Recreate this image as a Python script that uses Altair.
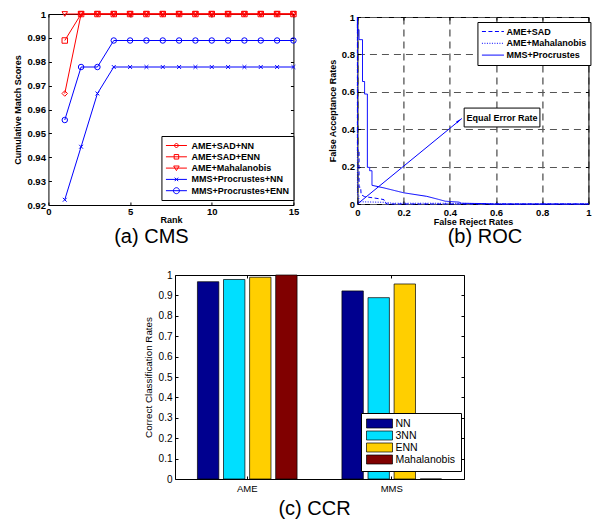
import altair as alt
import pandas as pd

FONT = "Liberation Sans"

# ---------------- (a) CMS ----------------
ranks = [1, 2, 3, 4, 5, 6, 7, 8, 9, 10, 11, 12, 13, 14, 15]
cms_series = ["AME+SAD+NN", "AME+SAD+ENN", "AME+Mahalanobis",
              "MMS+Procrustes+NN", "MMS+Procrustes+ENN"]
cms_ame_sad_nn = [0.9667, 1, 1, 1, 1, 1, 1, 1, 1, 1, 1, 1, 1, 1, 1]
cms_ame_sad_enn = [0.9889, 1, 1, 1, 1, 1, 1, 1, 1, 1, 1, 1, 1, 1, 1]
cms_ame_mahal = [1, 1, 1, 1, 1, 1, 1, 1, 1, 1, 1, 1, 1, 1, 1]
cms_mms_nn = [0.9222, 0.9444, 0.9667, 0.9778, 0.9778, 0.9778, 0.9778, 0.9778,
              0.9778, 0.9778, 0.9778, 0.9778, 0.9778, 0.9778, 0.9778]
cms_mms_enn = [0.9556, 0.9778, 0.9778, 0.9889, 0.9889, 0.9889, 0.9889, 0.9889,
               0.9889, 0.9889, 0.9889, 0.9889, 0.9889, 0.9889, 0.9889]
cms_colors = ["#ff0000", "#ff0000", "#ff0000", "#0000ff", "#0000ff"]
cms_y_ticks = [0.92, 0.93, 0.94, 0.95, 0.96, 0.97, 0.98, 0.99, 1.0]
cms_x_ticks = [0, 5, 10, 15]

# ---------------- (b) ROC ----------------
roc_series = ["AME+SAD", "AME+Mahalanobis", "MMS+Procrustes"]
roc_sad_x = [0, 0, 0.007, 0.007, 0.014, 0.016, 0.03, 0.05, 0.073, 0.1, 0.115, 0.12, 0.13, 1]
roc_sad_y = [1, 0.28, 0.28, 0.09, 0.09, 0.05, 0.04, 0.036, 0.032, 0.027, 0.023, 0.006, 0, 0]
roc_mah_x = [0, 0, 0.006, 0.006, 0.12, 0.15, 0.4, 0.56, 0.6, 1]
roc_mah_y = [1, 0.05, 0.05, 0.012, 0.009, 0.004, 0.004, 0.002, 0, 0]
roc_mms_x = [0, 0, 0.007, 0.007, 0.022, 0.022, 0.031, 0.031, 0.043, 0.043, 0.053, 0.053,
             0.063, 0.063, 0.115, 0.2, 0.3, 0.35, 0.38, 0.44, 0.45, 0.56, 0.57, 1]
roc_mms_y = [1, 0.932, 0.932, 0.879, 0.879, 0.655, 0.655, 0.588, 0.588, 0.196, 0.196, 0.178,
             0.178, 0.1, 0.086, 0.06, 0.041, 0.025, 0.015, 0.01, 0.004, 0.002, 0, 0]
roc_ticks = [0, 0.2, 0.4, 0.6, 0.8, 1.0]
eer_line_x = [0, 0.452]
eer_line_y = [0, 0.457]
eer_head_x = [0.437]
eer_head_y = [0.444]
eer_box_x = [0.462, 0.79]
eer_box_y = [0.412, 0.513]
eer_label = "Equal Error Rate"

# ---------------- (c) CCR ----------------
ccr_groups = ["AME", "MMS"]
ccr_series = ["NN", "3NN", "ENN", "Mahalanobis"]
ccr_ame = [0.967, 0.978, 0.989, 1.0]
ccr_mms = [0.922, 0.889, 0.956, 0.0]
ccr_colors = ["#00008f", "#00dfff", "#ffcf00", "#800000"]
ccr_ticks = [0, 0.1, 0.2, 0.3, 0.4, 0.5, 0.6, 0.7, 0.8, 0.9, 1.0]


def axis(orient, values, title=None, fmt="~g", bold=True, label_size=9.5,
         title_size=9, title_padding=4, label_padding=3, grid=False,
         grid_color="#333"):
    """Labelled axis without ticks."""
    w = "bold" if bold else "normal"
    kw = dict(orient=orient, values=values, ticks=False, tickSize=0, domain=False,
              grid=grid, labels=True, labelFont=FONT, labelFontSize=label_size,
              labelFontWeight=w, labelColor="black", labelPadding=label_padding,
              labelFlush=False, labelOverlap=False, labelAngle=0,
              titleFont=FONT, titleFontSize=title_size, titleFontWeight=w,
              titleColor="black", titlePadding=title_padding, title=title,
              minExtent=0)
    if fmt:
        kw["format"] = fmt
    if grid:
        kw.update(gridDash=[7, 5], gridColor=grid_color, gridWidth=1)
    return alt.Axis(**kw)


def tick_axis(orient, values, band=False):
    """Inward MATLAB-style ticks, no labels."""
    kw = dict(orient=orient, values=values, ticks=True, tickSize=3, offset=-3,
              tickColor="black", tickWidth=1, domain=False, grid=False,
              labels=False, title=None, minExtent=0)
    if band:
        kw["bandPosition"] = 0.5
    return alt.Axis(**kw)


def caption(text, dx, offset):
    return alt.TitleParams(text, orient="bottom", anchor="middle", frame="group",
                           dx=dx, offset=offset, fontSize=20, font=FONT,
                           fontWeight="normal", color="black")


# ---------- panel (a) ----------
rows = []
for s, vals in zip(cms_series, [cms_ame_sad_nn, cms_ame_sad_enn, cms_ame_mahal,
                                cms_mms_nn, cms_mms_enn]):
    for r, v in zip(ranks, vals):
        rows.append({"series": s, "rank": r, "score": v})
cms_df = pd.DataFrame(rows)

xa = alt.Scale(domain=[0, 15], nice=False, zero=False)
ya = alt.Scale(domain=[0.92, 1.0], nice=False, zero=False)
col_a = alt.Scale(domain=cms_series, range=cms_colors)
xpath = "M-0.7,-0.7L0.7,0.7M-0.7,0.7L0.7,-0.7"
shape_a = alt.Scale(domain=cms_series,
                    range=["diamond", "square", "triangle-down", xpath, "circle"])
leg_paths = [
    "M-1,0L3.2,0M1.1,-0.5L1.6,0L1.1,0.5L0.6,0Z",
    "M-1,0L3.2,0M0.65,-0.45L1.55,-0.45L1.55,0.45L0.65,0.45Z",
    "M-1,0L3.2,0M0.55,-0.42L1.65,-0.42L1.1,0.5Z",
    "M-1,0L3.2,0M0.75,-0.35L1.45,0.35M0.75,0.35L1.45,-0.35",
    "M-1,0L3.2,0M1.7,0A0.6,0.6,0,1,1,0.5,0A0.6,0.6,0,1,1,1.7,0",
]
leg_a = dict(title=None, orient="none", legendX=113, legendY=122,
             strokeColor="black", fillColor="white", padding=4,
             symbolSize=100, symbolStrokeWidth=1, labelOffset=15,
             labelFont=FONT, labelFontSize=9, labelFontWeight="bold",
             labelColor="black", rowPadding=0.3, labelLimit=200)

a_lines = alt.Chart(cms_df).mark_line(strokeWidth=1).encode(
    x=alt.X("rank:Q", scale=xa, axis=axis("bottom", cms_x_ticks, title="Rank",
                                          title_padding=0, label_padding=1)),
    y=alt.Y("score:Q", scale=ya, axis=axis("left", cms_y_ticks, title="Cumulative Match Scores")),
    color=alt.Color("series:N", scale=col_a, legend=None),
)
a_points = alt.Chart(cms_df).mark_point(filled=False, strokeWidth=1, opacity=1, size=30).encode(
    x=alt.X("rank:Q", scale=xa, axis=tick_axis("bottom", cms_x_ticks)),
    y=alt.Y("score:Q", scale=ya, axis=tick_axis("left", cms_y_ticks)),
    color=alt.Color("series:N", scale=col_a, legend=None),
    shape=alt.Shape("series:N", scale=shape_a, legend=None),
)
a_legend = alt.Chart(cms_df).transform_filter("false").mark_point(
    filled=False, strokeWidth=1, opacity=1, size=100).encode(
    x=alt.X("rank:Q", scale=xa, axis=None),
    y=alt.Y("score:Q", scale=ya, axis=None),
    color=alt.Color("series:N", scale=col_a, legend=alt.Legend(**leg_a)),
    shape=alt.Shape("series:N", scale=alt.Scale(domain=cms_series, range=leg_paths),
                    legend=alt.Legend(**leg_a)),
)
a_frame = alt.Chart(cms_df).transform_filter("false").mark_point().encode(
    x=alt.X("rank:Q", scale=xa, axis=tick_axis("top", cms_x_ticks)),
    y=alt.Y("score:Q", scale=ya, axis=tick_axis("right", cms_y_ticks)),
)
panel_a = alt.layer(a_lines, a_points, a_legend, a_frame).resolve_scale(
    color="independent", shape="independent").resolve_axis(
    x="independent", y="independent").properties(
    width=245, height=191, title=caption("(a) CMS", -19.5, 2))

# ---------- panel (b) ----------
rows = []
for s, xs, ys in zip(roc_series, [roc_sad_x, roc_mah_x, roc_mms_x],
                     [roc_sad_y, roc_mah_y, roc_mms_y]):
    for i, (x, y) in enumerate(zip(xs, ys)):
        rows.append({"series": s, "frr": x, "far": y, "i": i})
roc_df = pd.DataFrame(rows)

xb = alt.Scale(domain=[0, 1], nice=False)
yb = alt.Scale(domain=[0, 1], nice=False)
dash_b = alt.Scale(domain=roc_series, range=[[4, 2.5], [1, 1.5], [1, 0]])

b_lines = alt.Chart(roc_df).mark_line(strokeWidth=1, color="#0000ff").encode(
    x=alt.X("frr:Q", scale=xb, axis=axis("bottom", roc_ticks, title="False Reject Rates",
                                         title_padding=1, grid=True, grid_color="#222")),
    y=alt.Y("far:Q", scale=yb, axis=axis("left", roc_ticks, title="False Acceptance Rates",
                                         grid=True, grid_color="#555")),
    strokeDash=alt.StrokeDash("series:N", scale=dash_b, legend=alt.Legend(
        title=None, orient="none", legendX=120, legendY=5, strokeColor="black",
        fillColor="white", padding=4, symbolType="M-1,0L3.4,0", symbolSize=100,
        symbolStrokeColor="#0000ff", symbolStrokeWidth=1, labelOffset=14,
        labelFont=FONT, labelFontSize=9, labelFontWeight="bold", labelColor="black",
        rowPadding=0.8, labelLimit=200)),
    order=alt.Order("i:Q"),
)
b_arrow = alt.Chart(pd.DataFrame({"frr": eer_line_x, "far": eer_line_y})).mark_line(
    strokeWidth=1, color="#0000ff").encode(
    x=alt.X("frr:Q", scale=xb, axis=tick_axis("bottom", roc_ticks)),
    y=alt.Y("far:Q", scale=yb, axis=tick_axis("left", roc_ticks)))
b_head = alt.Chart(pd.DataFrame({"frr": eer_head_x, "far": eer_head_y})).mark_point(
    shape="wedge", filled=True, color="#0000ff", opacity=1, size=60, angle=51).encode(
    x=alt.X("frr:Q", scale=xb, axis=None), y=alt.Y("far:Q", scale=yb, axis=None))
b_box = alt.Chart(pd.DataFrame({"x1": [eer_box_x[0]], "x2": [eer_box_x[1]],
                                "y1": [eer_box_y[0]], "y2": [eer_box_y[1]]})).mark_rect(
    fill="white", stroke="black", strokeWidth=1).encode(
    x=alt.X("x1:Q", scale=xb, axis=None), x2="x2:Q",
    y=alt.Y("y1:Q", scale=yb, axis=None), y2="y2:Q")
b_text = alt.Chart(pd.DataFrame({"x": [(eer_box_x[0] + eer_box_x[1]) / 2],
                                 "y": [(eer_box_y[0] + eer_box_y[1]) / 2],
                                 "t": [eer_label]})).mark_text(
    font=FONT, fontSize=9, fontWeight="bold", color="black").encode(
    x=alt.X("x:Q", scale=xb, axis=None), y=alt.Y("y:Q", scale=yb, axis=None), text="t:N")
b_frame = alt.Chart(roc_df).transform_filter("false").mark_point().encode(
    x=alt.X("frr:Q", scale=xb, axis=tick_axis("top", roc_ticks)),
    y=alt.Y("far:Q", scale=yb, axis=tick_axis("right", roc_ticks)),
)
panel_b = alt.layer(b_lines, b_arrow, b_head, b_box, b_text, b_frame).resolve_axis(
    x="independent", y="independent").properties(
    width=231, height=187, title=caption("(b) ROC", 12, 0))

# small invisible spacer so that panel (b) sits a few pixels lower than (a)
spacer = alt.Chart(roc_df).transform_filter("false").mark_point().properties(
    width=231, height=1, view=alt.ViewBackground(stroke="transparent"))
col_b = alt.vconcat(spacer, panel_b, spacing=-5).resolve_scale(
    strokeDash="independent")

# ---------- panel (c) ----------
rows = []
for g, vals in zip(ccr_groups, [ccr_ame, ccr_mms]):
    for s, v in zip(ccr_series, vals):
        rows.append({"group": g, "series": s, "rate": v})
ccr_df = pd.DataFrame(rows)

xc = alt.Scale(domain=ccr_groups, paddingInner=0, paddingOuter=0)
yc = alt.Scale(domain=[0, 1], nice=False)

c_bars = alt.Chart(ccr_df).mark_bar(stroke="black", strokeWidth=0.7).encode(
    x=alt.X("group:N", scale=xc, axis=axis("bottom", ccr_groups, fmt=None, bold=False,
                                           label_size=9.5, label_padding=4)),
    xOffset=alt.XOffset("series:N", scale=alt.Scale(domain=ccr_series,
                                                    paddingInner=0.18, paddingOuter=0.86)),
    y=alt.Y("rate:Q", scale=yc, axis=axis("left", ccr_ticks, title="Correct Classification Rates",
                                          bold=False, label_size=10, title_size=9.8,
                                          title_padding=5)),
    color=alt.Color("series:N", scale=alt.Scale(domain=ccr_series, range=ccr_colors),
                    legend=alt.Legend(
                        title=None, orient="none", legendX=186, legendY=138,
                        strokeColor="black", fillColor="white", padding=5,
                        symbolType="M-1,-0.9L4.2,-0.9L4.2,0.9L-1,0.9Z", symbolSize=100,
                        symbolStrokeColor="black", symbolStrokeWidth=0.7, labelOffset=18.5,
                        labelFont=FONT, labelFontSize=10.5, labelColor="black",
                        rowPadding=-1, labelLimit=200)),
)
c_ticks = alt.Chart(ccr_df).transform_filter("false").mark_point().encode(
    x=alt.X("group:N", scale=xc, axis=tick_axis("bottom", ccr_groups, band=True)),
    y=alt.Y("rate:Q", scale=yc, axis=tick_axis("left", ccr_ticks)),
)
c_frame = alt.Chart(ccr_df).transform_filter("false").mark_point().encode(
    x=alt.X("group:N", scale=xc, axis=tick_axis("top", ccr_groups, band=True)),
    y=alt.Y("rate:Q", scale=yc, axis=tick_axis("right", ccr_ticks)),
)
panel_c = alt.layer(c_bars, c_ticks, c_frame).resolve_axis(
    x="independent", y="independent").properties(
    width=289, height=204, title=caption("(c) CCR", -5, 6))

top_row = alt.hconcat(panel_a, col_b, spacing=28).resolve_scale(
    color="independent", shape="independent", strokeDash="independent")
chart = alt.vconcat(top_row, panel_c, spacing=22, center=True).resolve_scale(
    color="independent", shape="independent", strokeDash="independent").properties(
    padding={"left": 5, "top": 0, "right": 0, "bottom": 0},
    background="white",
).configure_view(stroke="black", strokeWidth=1)

chart.save("out.html", embed_options={"renderer": "svg", "actions": False})
